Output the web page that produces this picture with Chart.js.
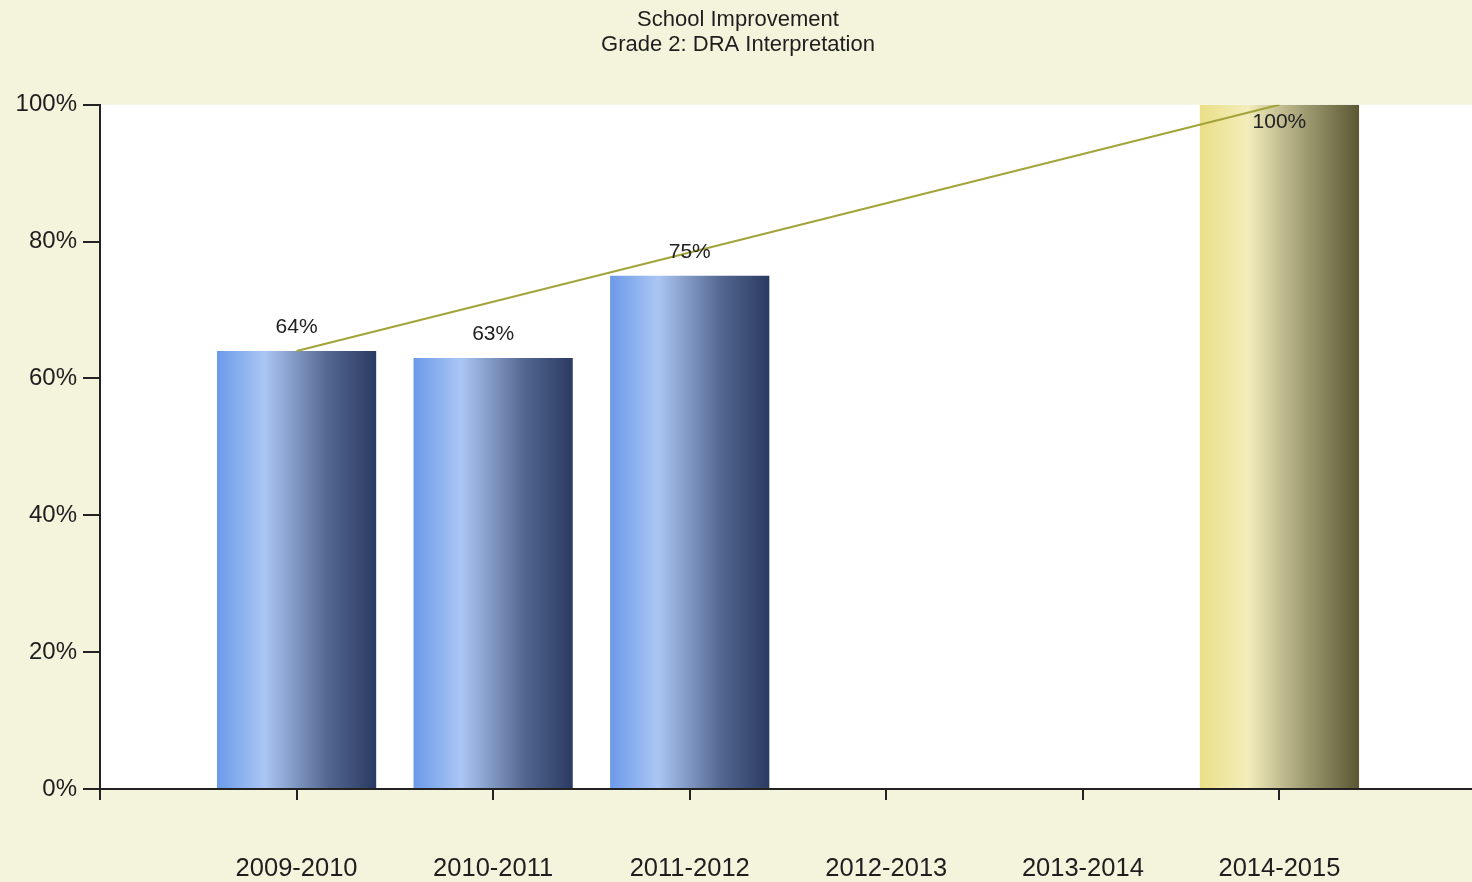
<!DOCTYPE html>
<html>
<head>
<meta charset="utf-8">
<title>School Improvement - Grade 2: DRA Interpretation</title>
<script src="https://cdn.jsdelivr.net/npm/chart.js@4.4.1/dist/chart.umd.min.js"></script>
<style>
  html, body { margin: 0; padding: 0; background: #f4f3dc; overflow: hidden; }
  #wrap { width: 1476px; height: 882px; position: relative; }
</style>
</head>
<body>
<div id="wrap"><canvas id="dra-chart"></canvas></div>
<script>
var years = ['2009-2010', '2010-2011', '2011-2012', '2012-2013', '2013-2014', '2014-2015'];
var actualValues = [64, 63, 75, null, null, null];
var goalValues = [null, null, null, null, null, 100];
var trendValues = [64, null, null, null, null, 100];
var yTicks = [0, 20, 40, 60, 80, 100];

var BG_COLOR = '#f4f3dc';
var BAR_FRACTION = 0.81;
var blueStops = [[0, '#6b9ae9'], [0.3, '#abc6f4'], [0.7, '#52668f'], [1, '#2b3a63']];
var goldStops = [[0, '#ebdf86'], [0.3, '#f3edbc'], [0.7, '#97936a'], [1, '#5b5733']];

// one empty slot on each side, so the first year sits a full step off the y axis
function pad(arr) {
	return [null].concat(arr).concat([null]);
}

function barGradient(context, stops) {
	var chart = context.chart;
	var xScale = chart.scales.x;
	if (!xScale || context.dataIndex === undefined) {
		return stops[1][1];
	}
	var center = xScale.getPixelForValue(context.dataIndex);
	var step = xScale.getPixelForValue(1) - xScale.getPixelForValue(0);
	if (!isFinite(center) || !isFinite(step) || step <= 0) {
		return stops[1][1];
	}
	var half = step * BAR_FRACTION / 2;
	var grad = chart.ctx.createLinearGradient(center - half, 0, center + half, 0);
	for (var i = 0; i < stops.length; i++) {
		grad.addColorStop(stops[i][0], stops[i][1]);
	}
	return grad;
}

var plotBackground = {
	id: 'plotBackground',
	beforeDraw: function(chart) {
		var ctx = chart.ctx;
		var a = chart.chartArea;
		ctx.save();
		ctx.fillStyle = BG_COLOR;
		ctx.fillRect(0, 0, chart.width, chart.height);
		ctx.fillStyle = '#ffffff';
		ctx.fillRect(a.left, a.top, a.right - a.left, a.bottom - a.top);
		ctx.restore();
	}
};

var valueLabels = {
	id: 'valueLabels',
	afterDatasetsDraw: function(chart) {
		var ctx = chart.ctx;
		ctx.save();
		ctx.font = '21px "Liberation Sans", Arial, sans-serif';
		ctx.fillStyle = '#222222';
		ctx.textAlign = 'center';
		ctx.textBaseline = 'middle';
		chart.data.datasets.forEach(function(ds, i) {
			if (ds.type !== 'bar') return;
			chart.getDatasetMeta(i).data.forEach(function(bar, j) {
				var v = ds.data[j];
				if (v === null || v === undefined) return;
				var y = bar.y - 24;
				if (y - 12 < chart.chartArea.top) {
					y = bar.y + 17;
				}
				ctx.fillText(v + '%', bar.x, y);
			});
		});
		ctx.restore();
	}
};

var fontFamily = '"Liberation Sans", Arial, sans-serif';

var draChart = new Chart(document.getElementById('dra-chart'), {
	type: 'bar',
	data: {
		labels: pad(years).map(function(y) { return y || ''; }),
		datasets: [{
			type: 'line',
			data: pad(trendValues),
			borderColor: '#a3a33a',
			borderWidth: 2,
			pointRadius: 0,
			spanGaps: true,
			fill: false,
			order: 0
		}, {
			type: 'bar',
			data: pad(actualValues),
			grouped: false,
			barPercentage: 1,
			categoryPercentage: BAR_FRACTION,
			backgroundColor: function(context) { return barGradient(context, blueStops); },
			order: 1
		}, {
			type: 'bar',
			data: pad(goalValues),
			grouped: false,
			barPercentage: 1,
			categoryPercentage: BAR_FRACTION,
			backgroundColor: function(context) { return barGradient(context, goldStops); },
			order: 2
		}]
	},
	options: {
		responsive: true,
		maintainAspectRatio: false,
		animation: false,
		layout: { padding: 0 },
		plugins: {
			legend: { display: false },
			tooltip: { enabled: false },
			title: {
				display: true,
				text: ['School Improvement', 'Grade 2: DRA Interpretation'],
				color: '#1e1e1e',
				font: { family: fontFamily, size: 22, weight: 'normal', lineHeight: 1.13 },
				padding: { top: 8, bottom: 47 }
			}
		},
		scales: {
			x: {
				offset: false,
				grid: { display: true, offset: false, drawOnChartArea: false, color: '#222222', lineWidth: 2, tickLength: 11 },
				border: { display: true, color: '#222222', width: 2 },
				ticks: { color: '#1e1e1e', font: { family: fontFamily, size: 25.5 }, padding: 54, maxRotation: 0, autoSkip: false },
				afterFit: function(scale) {
					scale.height = 93;
					scale.paddingLeft = 0;
					scale.paddingRight = 0;
				}
			},
			y: {
				min: 0,
				max: 100,
				afterBuildTicks: function(scale) {
					scale.ticks = yTicks.map(function(v) { return { value: v }; });
				},
				grid: { display: true, drawOnChartArea: false, color: '#222222', lineWidth: 2, tickLength: 17 },
				border: { display: true, color: '#222222', width: 2 },
				ticks: {
					color: '#1e1e1e',
					font: { family: fontFamily, size: 24 },
					padding: 6,
					callback: function(v) { return v + '%'; }
				},
				afterFit: function(scale) { scale.width = 100; }
			}
		}
	},
	plugins: [plotBackground, valueLabels]
});
</script>
</body>
</html>
